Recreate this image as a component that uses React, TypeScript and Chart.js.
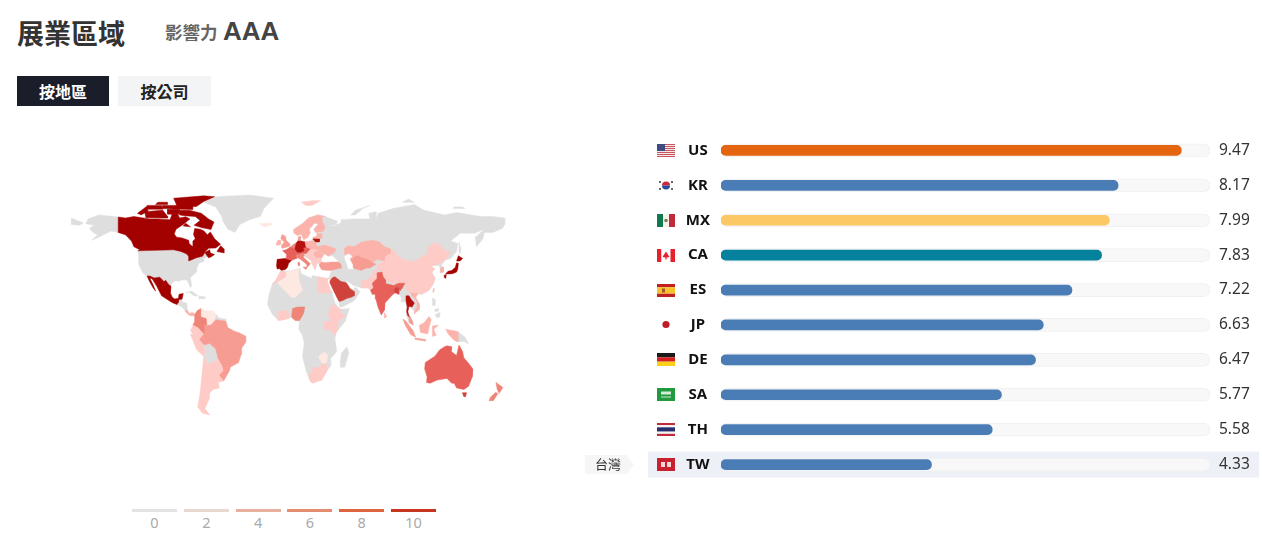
import React, { useEffect, useRef } from "react";
import { Chart, registerables } from "chart.js";

Chart.register(...registerables);

/* ---------- ranking data ---------- */
const codes = ["US", "KR", "MX", "CA", "ES", "JP", "DE", "SA", "TH", "TW"];
const scores = [9.47, 8.17, 7.99, 7.83, 7.22, 6.63, 6.47, 5.77, 5.58, 4.33];
const scoreLabels = ["9.47", "8.17", "7.99", "7.83", "7.22", "6.63", "6.47", "5.77", "5.58", "4.33"];
const barColors = ["#e5640f", "#4a7db5", "#fbc865", "#04819c", "#4a7db5", "#4a7db5", "#4a7db5", "#4a7db5", "#4a7db5", "#4a7db5"];
const trackMax = 10.06;
const highlightCode = "TW";
const highlightName = "台灣";

/* ---------- legend data ---------- */
const legendTicks = ["0", "2", "4", "6", "8", "10"];
const legendColors = ["#e3e3e3", "#e8d8d0", "#e8b09c", "#e38c70", "#de6540", "#c8341f"];

/* ---------- map shades ---------- */
const GRAY = "#dedede";
const WATER = "#ffffff";
const S1 = "#fde8e2";
const S2 = "#ffcbc6";
const S3 = "#fcb3ab";
const S4 = "#f79c92";
const S5 = "#ef8478";
const S6 = "#e8605a";
const S7 = "#d0433c";
const S8 = "#b5120f";
const S9 = "#a30000";

/* ---------- map outlines: flat lon,lat lists ---------- */
const eurasia = [-9,37,-9.5,39,-9,43,-2,43.5,-1,46,-4.5,48.5,-1.5,49,1.5,50.5,4,52,7,53.5,8.5,55,8.5,57,10.5,57.5,10,54.5,14,54,19,54.5,21,57,24,57.5,24,59.3,29.5,60,23,60,21.5,62,25,65,22,65.8,17.5,62,18.5,60,16.5,57,14.5,56,13,55.5,11,59,8,58,5,59.5,5,62,12,65.5,17,69,25,71,31,70,41,67,40,65,35,64.5,38,64,44,66,44,68,54,68.5,68,68.5,67,72,73,73,73,68,75,72,87,75,105,77.5,113,74,130,71,140,72.5,160,70,170,70,180,69,180,65,178,62.5,170,60,163,60,162,56,156.5,51,155.5,57,163,62,155,59.5,143,59.5,135,54.5,141,53,140,48,135,43.5,130.5,42.5,127.5,39.5,129.3,37,129,35,126.5,34.5,126.5,37.5,125,39.5,121.5,39,118,39,122,37,119.5,35,122,31,121,28,117,23.5,111,21,108,21.5,106,19,109,15,109,11.5,105,8.7,105,10.5,100.5,13.5,99.5,10,103.5,4,104,1.5,101,3,98,8,98.5,14,97.5,16.5,94.5,16,94,19,91.5,22.5,89,22,86.5,20.5,80.5,15.5,80,11,77.5,8,75,12.5,73,18,72.5,21,70,21,68.5,23.5,66.5,25,61.5,25,57,26,54,26.7,51,28.5,48,30,50,26.5,51.5,25,54,24,56.3,25.5,59.8,22.5,55,17,45,13,43,13,42,17,39,21.5,35,28,34.9,29.5,34.2,31.3,36,36,32,36.2,28,36.5,26.5,38.5,26.5,40,24,40.7,23,38,22.5,36.5,19.5,41,19,42.5,14,45,12.5,44.5,18.5,40.3,16,38,15.5,40,10.5,43,8,44,3.5,43,0.5,40.5,-0.5,38,-2,36.7,-5.5,36];
const chukotkaEnd = [-180,65,-180,69,-175,67.5,-170,66,-173,64.5];
const novayaZemlya = [52,71,56,74,68,77,62,75,56,71];
const severnaya = [95,79,105,79,100,81];
const newSiberia = [137,75,147,75,145,76,138,76];
const africa = [-6,35.8,-1,35.5,10,37.3,11,34,15,32.5,20,31,20,32.8,25,32,32,31,34.2,31.3,32.5,29.9,35,24,37,21,39,15.5,43,11.5,51,12,47.5,4,40,-3,39,-7,40.5,-15,35,-20,35.5,-24,32.5,-27,28,-33,20,-35,18,-33,15,-27,12,-18,13.5,-10,12,-5,9,-1,9.5,4,6,4.5,3,6.5,-4,5,-8,4.5,-13,8.5,-17,14.5,-16,20,-13,27.5,-10,30];
const madagascar = [49,-12,50.5,-16,47,-25,44,-25,43.5,-21,44.5,-16];
const alaska = [-168,65.5,-166,68.5,-157,71,-141,69.7,-141,60,-135,58.5,-130,55,-134,58,-140,59.8,-147,60.8,-152,59,-157,57,-163,55,-158,58.5,-162,60,-165,62.5,-161,64.5];
const usa = [-124.7,48.4,-95,49,-89,48,-84.5,46.5,-82.5,45,-82.5,42,-79,43,-76,44,-71,45,-69,47.3,-67,45,-70,43.5,-70,41.7,-74,40.5,-76,37,-76,35,-81,31.5,-80,26,-81,25.2,-82.7,28,-84,30,-89,30,-90,29.2,-94,29.5,-97,27.5,-97.2,26,-99.5,27.5,-101.5,29.8,-103,29,-106.5,31.8,-111,31.3,-114.8,32.5,-117.1,32.5,-120.6,34.5,-122.5,37.5,-124.3,40.3,-124,46];
const greenland = [-70,79,-60,82.5,-32,83.5,-12,81.5,-20,75,-23,70,-32,68,-40,65,-44,60,-50,62,-54,67,-55,70,-60,76];
const canada = [-141,69.7,-135,69,-128,70,-115,68.5,-108,68.5,-98,68,-96,72,-92,72,-90,69,-85,69.8,-81.5,68.5,-87,65,-93,62,-94.5,59,-92.5,57,-88,56.5,-82.5,55,-82,52.8,-79.5,51.3,-79,54.5,-77,56,-78.5,58.7,-77.5,62.4,-73,62,-70,61,-67,58.5,-64.5,60.3,-61,56,-56,52.5,-60,50.2,-66,50,-70,47,-65,49,-64.5,47,-61,46,-64,44.5,-66,44,-67,45,-69,47.3,-71,45,-76,44,-79,43,-82.5,42,-82.5,45,-84.5,46.5,-89,48,-95,49,-124.7,48.4,-123,49,-128,51,-130,54.5,-135,58.5,-141,60];
const baffin = [-82,74,-72,72,-66,68.5,-61.5,66.5,-64,61.8,-72,63,-78,64.5,-73,67.5,-77,70,-86,70.5,-90,71,-90,74];
const victoria = [-119,73,-104,74,-100,70,-100,69,-118,69.2];
const banks = [-125,72,-118,76,-116,73.5,-122,71];
const ellesmere = [-92,76.3,-95,81.5,-70,83,-61,82.5,-70,79.5,-76,76.3];
const devon = [-96,74.8,-79,74.4,-79,76.4,-92,77.5];
const melville = [-119,74.6,-104,74.6,-105,77,-117,77];
const bathurst = [-104,75,-93,74.8,-93,77,-104,77];
const somerset = [-100,71.5,-90,71.5,-90,74.5,-100,74.5];
const kingChristian = [-110,77.5,-100,77.5,-100,79,-108,79];
const newfoundland = [-59,48,-53,47,-53,49.5,-56,51.5];
const southampton = [-87,64,-81,63.5,-85,65.8];
const mexico = [-117.1,32.5,-114.8,32.5,-111,31.3,-106.5,31.8,-103,29,-101.5,29.8,-99.5,27.5,-97.2,26,-97.8,22,-96,19,-94,18,-91,18.5,-90.5,21,-87,21.5,-88,18,-91,17.5,-91,16,-92.2,14.5,-96,15.7,-105,20,-109,26,-113,31,-114.7,31,-112,27,-110,23,-112,25,-115,29];
const centralAm = [-92.2,14.5,-91,16,-91,17.5,-88,18,-88,16,-84,15.5,-83.5,11,-84,9,-86,11,-88,13];
const panama = [-85.5,10.5,-83.5,11,-82,9,-79,9.5,-77.5,8.5,-78,7.5,-81,7.5,-83,8.2];
const cuba = [-85,22,-80,23,-74.5,20,-78,20,-82,22.3];
const hispaniola = [-74,19.8,-69,19.5,-68.5,18.3,-74,18.2];
const brazil = [-51.5,4,-60,5,-64,2,-70,1,-70,-4,-74,-7.5,-70,-11,-65,-10,-60,-13.5,-58,-20,-55,-24,-54,-27,-57.5,-30,-53.5,-33.7,-48.5,-27,-48,-25,-41,-22,-39,-17,-38.5,-13,-35,-9,-35,-5.5,-41,-3,-44,-2.5,-50,0];
const colombia = [-77.5,8.5,-75,11,-72,12,-72,7,-67.5,6,-67,2,-70,1,-70,-4,-75,0,-79,1.5,-77.5,4];
const venezuela = [-72,12,-68,10.5,-62,10.7,-60,8.5,-61,5,-64,2,-67,2,-67.5,6,-72,7];
const guianas = [-60,8.5,-57,6,-52,5.5,-51.5,4,-60,2,-60,5,-61,5];
const ecuador = [-79,1.5,-75,0,-75.5,-2,-78.5,-4.5,-81,-2];
const peru = [-81,-4,-78.5,-4.5,-75.5,-2,-75,0,-70,-4,-74,-7.5,-70,-11,-69,-15,-70,-18,-76,-14];
const bolivia = [-70,-11,-65,-10,-60,-13.5,-58,-20,-62.5,-22,-67,-23,-69,-19,-70,-18,-69,-15];
const southernCone = [-70,-18,-69,-19,-67,-23,-62.5,-22,-58,-20,-55,-24,-54,-27,-57.5,-30,-53.5,-33.7,-58,-34.5,-57,-38,-62,-39,-65,-41,-65.5,-45,-69,-51,-65,-55,-71,-54,-75,-50,-73,-41,-71.5,-30];
const spain = [-9,43,-2,43.5,3,42.4,0.5,40.5,-0.5,38,-2,36.7,-5.5,36,-7,37.2,-9,37,-9.5,39];
const france = [-1.7,43.4,3,42.4,7.5,43.7,7,46,8,49,2.5,51,1.5,50.5,-1.5,49,-4.5,48.5,-1,46];
const germany = [5.9,50.5,7,53.5,8.7,55,14.2,54,15,51,12.5,50,13.5,48.5,10,47.3,7.5,47.6,6.5,49];
const benelux = [2.5,51,6,49.5,5.9,50.5,7,53.5,4,52];
const italy = [7,44,7,46,12,47,13.5,45.6,12.5,44.5,18.5,40.3,16,38,15.5,40,10.5,43,8,44];
const sicily = [12.5,38,15.5,38.2,15,36.7];
const sardinia = [8.2,41,9.7,41,9.5,39,8.5,39];
const centralEu = [7.5,47.6,10,47.3,13.5,48.5,12.5,50,15,51,19,49.5,17,48,16,47,13.5,46.5,12,47,7,46];
const poland = [14.2,54,19,54.5,23,54,24,51,22.5,49.2,19,49.5,15,51];
const hungary = [16,47,17,48,19,49.5,22.5,49.2,22.5,48,21,46,19,45.5,16,46];
const ukraine = [22.5,49.2,24,51,31,52,40,49.5,38,47,35,46,33.5,44.5,30,46,27,48];
const romania = [21,46,22.5,48,27,48,29.5,45,28,43.8,23,43.8];
const balkans = [23,43.8,28,43.8,28,41.8,26,40.8,24,40.7,23,38,22.5,36.5,19.5,41,19,42.5,14,45,16,46,19,45.5,21,46];
const scandinavia = [5,59.5,8,58,11,59,13,55.5,14.5,56,16.5,57,18.5,60,17.5,62,22,65.8,24,66,23,68,28,70,31,70,25,71,17,69,12,65.5,5,62];
const finland = [24,66,25,65,21.5,62,23,60,29,60.5,31,63,29,66,28.5,69.5,28,70,23,68];
const denmark = [8.5,55,8.5,57,10.5,57.5,10,54.8];
const lithuania = [21,56.3,26,56,26,54,23,54,21,55.3];
const latvia = [21,57,24,57.5,24,59.3,28,59.3,28,56.2,21,56.3];
const britain = [-5,50,1.5,51.3,1.7,52.7,-1.5,55,-2,57.5,-5,58.6,-6,56,-3,54,-5,52];
const ireland = [-10,52,-6,52.2,-6,55,-8.5,55];
const iceland = [-24,65.5,-14,66,-14,64.5,-20,63.4];
const svalbard = [11,79,20,80,27,80,20,77,15,77];
const turkey = [26,40,26.5,38.5,28,36.5,32,36.2,36,36.2,42,37.2,44.5,37.5,44,40,41.5,41.5,36,41.5,31,41,28,41.5];
const saudi = [34.9,29.5,37,31.5,39,32,44,29,48,28.5,50,26.5,51.5,24.5,55,22.7,55,20,52,19,49,18.5,46,17.3,43,16.5,42,17,39,21.5,35,28];
const india = [74,34.5,78,35,79,32,81,30,81,27.8,88,26.5,89,27,92,28,97,28,95,25,93,23,92,25,89.5,25.5,88,24,89,22,86.5,20.5,80.5,15.5,80,11,77.5,8,75,12.5,73,18,72.5,21,70,21,68.5,23.5,71,25,70,28,74,31];
const china = [74,39.5,80,42,80.5,45,85,47,88,49,91,45.5,96,42.8,105,41.6,112,45,116,46.5,116,49.8,120,53,125,53,131,48,135,48,131,43,125,40,121.5,39,118,39,122,37,119.5,35,122,31,121,28,117,23.5,111,21,108,21.5,102,22,98,24,97,28,92,28,89,27.5,81,30,79,32,78,35,75,37];
const kazakhstan = [47,50,50,51.5,55,51,61,54,70,55,76,54,80,51,85.5,49.5,85,47,80.5,45,80,42,74,43,70,41,66,43,61,44,58,45.5,56,45,52,42,50.5,45,47,46];
const centralAsia = [56,45,58,45.5,61,44,66,43,70,41,73,40,68,37.5,65,37.5,61,36,54,37.5,53,40,52,42];
const pakistan = [61,25,66.5,25,68.5,23.5,71,25,70,28,74,31,74,34.5,75,37,71,36,70,33,66,30,61,29.5];
const bangladesh = [88,24,89.5,25.5,92,25,92,21,89,22];
const thailand = [98,17,98,20,100.5,20,102,18,105,15.5,103,13,100.5,13.5,99.5,10,100.5,7,102,6,99.5,7.5,98.5,10,99,13];
const vietnam = [102,22,108,21.5,106,19,109,15,109,11.5,105,8.7,105,10.5,107,12.5,107.5,16,104.5,19,102.5,20];
const malaya = [100.5,6.5,102,6,103.5,4,104,1.5,101,3];
const sumatra = [95.5,5.5,98,4,104,-2,106,-6,102,-4.5,97,2];
const java = [105.5,-6.5,114,-7.5,114,-8.5,106,-7.5];
const borneo = [109,1.5,113,3,117,7,119,5,117.5,1,116,-4,110,-3];
const sulawesi = [120,1,125,1.5,121,-1,123,-5,120,-5.5];
const papua = [131,-1,141,-2.5,141,-9,138,-8,133,-4];
const png = [141,-2.5,147,-6,150,-10.5,146,-8.5,141,-9];
const luzon = [120,18.5,122,18,122,14,120,14];
const visayas = [122,11.5,125,12,125,10.5,122,10];
const mindanao = [122,8,125.5,9.5,126,7,124,6];
const sriLanka = [80,9.5,82,7,80.5,6];
const honshu = [130.9,34,133,35.5,136,36,139,38,140,40.8,141.5,40.5,141,37,140,35,136.5,34,133,33.8];
const kyushu = [129.7,33,131.5,33.5,131,31,130,31.5];
const hokkaido = [140,42,141.5,45.3,145,43.5,143,42];
const sakhalin = [142,54,143.5,50,143,46.5,142,48];
const southKorea = [126.5,37.7,129,38,129.3,36,129,35,126.5,34.5];
const taiwan = [120.2,23,121.5,25,121,22];
const algeria = [-2,35,8.5,37,9,30,12,23.5,6,19,3,19,-8,27.5,-8.5,29,-2,32];
const morocco = [-6,35.8,-2,35,-2,32,-8.5,29,-13,27.5,-10,30];
const egypt = [25,32,32,31,34.2,31.3,32.5,29.9,35,24,37,22,25,22];
const nigeria = [3,6.5,3.7,12,8,13,14,13,13,9,9.5,4.5,6,4.5];
const ghanaCoast = [-8,4.5,-3,5,1,6,0,11,-8,10];
const ethiopia = [33,8,36.5,14.5,43,12,43,9.5,47.5,8,42,4,36,4.5];
const kenya = [34,4,36,4.5,41.5,4,41,-2,39,-4.5,34,-1];
const uganda = [30,3.5,34,4,34,-1,30,-1];
const southAfrica = [17,-29,20,-29,20,-25,25,-25.5,29,-22.5,32,-23,32.5,-27,28,-33,20,-35,18,-33];
const zimbabwe = [25.5,-18,30,-15.5,33,-17,32,-22,29,-22.5,26,-20];
const australia = [114,-22,122,-18,126,-14,130,-12,132,-11.5,136,-12,135.5,-15,140,-17.5,142,-11,145,-15,146,-19,150,-22.5,153.5,-26,153,-31,150,-37,146,-39,140,-38,138,-35,136,-35,132,-32,124,-33,118,-35,115,-34.5,115.5,-31,113.5,-26];
const tasmania = [144.8,-41,148.3,-41,147.5,-43.5,146,-43.5];
const nzNorth = [172.7,-34.5,178.5,-37.7,175.3,-41.5,173.8,-39];
const nzSouth = [172.5,-40.7,174.3,-41.7,170.5,-46,167,-46,168,-44];
const caspian = [47,45,50.5,46.5,53,45,51,43,53.5,40,54,37,50,37.3,49,40,47.5,43];
const blackSea = [28,41.6,31,41.3,36,41.6,41.5,41.7,37,45,33.5,44.6,30.5,46,28.5,44];

/* drawn in this order, later on top */
const mapLayers: [number[], string][] = [
  [eurasia, GRAY], [chukotkaEnd, GRAY], [novayaZemlya, GRAY], [severnaya, GRAY], [newSiberia, GRAY], [africa, GRAY], [madagascar, GRAY], [alaska, GRAY], [usa, GRAY], [greenland, GRAY],
  [centralAm, GRAY], [cuba, GRAY], [hispaniola, GRAY], [guianas, GRAY], [bolivia, GRAY], [png, GRAY], [luzon, GRAY], [visayas, GRAY], [mindanao, GRAY], [sakhalin, GRAY],
  [canada, S9], [baffin, S9], [victoria, S9], [banks, S9], [ellesmere, S9], [devon, S9], [melville, S9], [bathurst, S9], [somerset, S9], [kingChristian, S9], [newfoundland, S9], [southampton, S9],
  [mexico, S9], [panama, S3],
  [brazil, S4], [colombia, S5], [venezuela, S1], [ecuador, S2], [peru, S2], [southernCone, S2],
  [spain, S9], [france, S6], [benelux, S5], [italy, S5], [sicily, S5], [sardinia, S5], [centralEu, S6], [germany, S8], [poland, S3], [hungary, S2], [ukraine, S3], [romania, S3], [balkans, S2],
  [scandinavia, S3], [finland, S3], [denmark, S4], [lithuania, S8], [latvia, S3], [britain, S4], [ireland, S3], [iceland, S1], [svalbard, S2],
  [turkey, S4], [saudi, S7], [china, S2], [kazakhstan, S3], [centralAsia, S4], [pakistan, S2], [india, S6], [bangladesh, S7],
  [thailand, S8], [vietnam, S3], [malaya, S4], [sumatra, S4], [java, S4], [borneo, S3], [sulawesi, S3], [papua, S3], [sriLanka, S3],
  [honshu, S9], [kyushu, S9], [hokkaido, S9], [southKorea, S3], [taiwan, S3],
  [algeria, S1], [morocco, S2], [egypt, S2], [nigeria, S5], [ghanaCoast, S2], [ethiopia, S2], [kenya, S2], [uganda, S2], [southAfrica, S2], [zimbabwe, S1],
  [australia, S6], [tasmania, S7], [nzNorth, S5], [nzSouth, S5],
  [caspian, WATER], [blackSea, WATER],
];

function toPoints(flat: number[]) {
  const pts: { x: number; y: number }[] = [];
  for (let i = 0; i < flat.length; i += 2) pts.push({ x: flat[i], y: flat[i + 1] });
  pts.push({ x: flat[0], y: flat[1] });
  return pts;
}

/* ---------- flags, painted at a row's pixel centre ---------- */
type Ctx = CanvasRenderingContext2D;
function stripes(c: Ctx, x: number, y: number, w: number, h: number, cols: string[], weights: number[], vertical = false) {
  const total = weights.reduce((a, b) => a + b, 0);
  let off = 0;
  cols.forEach((col, i) => {
    const s = weights[i] / total;
    c.fillStyle = col;
    if (vertical) c.fillRect(x + off * w, y, s * w, h);
    else c.fillRect(x, y + off * h, w, s * h);
    off += s;
  });
}
function drawFlag(c: Ctx, code: string, cy: number) {
  const w = 18, h = 13, x = 657, y = Math.round(cy - h / 2);
  const cx = x + w / 2, my = y + h / 2;
  c.save();
  if (code === "US") {
    const cols: string[] = [], wt: number[] = [];
    for (let i = 0; i < 7; i++) { cols.push("#c8545c", "#f4e8e8"); wt.push(1, 1); }
    stripes(c, x, y, w, h, cols.slice(0, 13), wt.slice(0, 13));
    c.fillStyle = "#3f4c80";
    c.fillRect(x, y, 8, 7);
  } else if (code === "KR") {
    c.fillStyle = "#cc2a3a";
    c.beginPath(); c.arc(cx, my, 4, Math.PI, 0); c.fill();
    c.fillStyle = "#2a4a9a";
    c.beginPath(); c.arc(cx, my, 4, 0, Math.PI); c.fill();
    c.fillStyle = "#666";
    [[-6, -3.5], [6, -3.5], [-6, 3.5], [6, 3.5]].forEach(([a, b]) => c.fillRect(cx + a - 1, my + b - 1, 2, 2));
  } else if (code === "MX") {
    stripes(c, x, y, w, h, ["#0f7a50", "#f6f2ee", "#c02a3a"], [1, 1, 1], true);
    c.fillStyle = "#8a7a50";
    c.beginPath(); c.arc(cx, my, 1.8, 0, Math.PI * 2); c.fill();
  } else if (code === "CA") {
    stripes(c, x, y, w, h, ["#e8202c", "#ffffff", "#e8202c"], [1, 2, 1], true);
    c.fillStyle = "#e8202c";
    c.beginPath(); c.moveTo(cx, my - 4); c.lineTo(cx + 3.5, my + 1.5); c.lineTo(cx + 0.6, my + 2); c.lineTo(cx + 0.6, my + 4);
    c.lineTo(cx - 0.6, my + 4); c.lineTo(cx - 0.6, my + 2); c.lineTo(cx - 3.5, my + 1.5); c.closePath(); c.fill();
  } else if (code === "ES") {
    stripes(c, x, y, w, h, ["#c0201f", "#f6c32c", "#c0201f"], [1, 2, 1]);
    c.fillStyle = "#a8582c";
    c.fillRect(x + 5, my - 2, 3, 4);
  } else if (code === "JP") {
    c.fillStyle = "#c01c28";
    c.beginPath(); c.arc(cx, my, 3.6, 0, Math.PI * 2); c.fill();
  } else if (code === "DE") {
    stripes(c, x, y, w, h, ["#1a1a1a", "#d61f1f", "#fbcf1a"], [1, 1, 1]);
  } else if (code === "SA") {
    c.fillStyle = "#1f9a3c";
    c.fillRect(x, y, w, h);
    c.fillStyle = "#d5ecd8";
    c.fillRect(x + 4, my - 3, 10, 3);
    c.fillRect(x + 4, my + 2, 10, 1);
  } else if (code === "TH") {
    stripes(c, x, y, w, h, ["#c02a3a", "#f4f4f4", "#27306e", "#f4f4f4", "#c02a3a"], [1, 1, 2, 1, 1]);
  } else if (code === "TW") {
    c.fillStyle = "#c8202f";
    c.fillRect(x, y, w, h);
    c.fillStyle = "#f4d6d8";
    c.fillRect(x + 4, my - 2.5, 4, 5);
    c.fillRect(x + 10, my - 2.5, 4, 5);
  }
  c.restore();
}

const rowDecor = {
  id: "rowDecor",
  beforeDatasetsDraw(chart: any) {
    const c: Ctx = chart.ctx;
    const y = chart.scales.y;
    const idx = codes.indexOf(highlightCode);
    const hy = y.getPixelForValue(idx);
    const ox = chart.canvas.getBoundingClientRect().left;
    c.save();
    c.globalCompositeOperation = "destination-over";
    c.fillStyle = "#edf0f6";
    c.fillRect(648 - ox, hy - 13, 611, 26);
    c.restore();
    c.save();
    c.fillStyle = "#f6f6f7";
    c.beginPath();
    c.moveTo(585 - ox, hy - 9.5);
    c.lineTo(627 - ox, hy - 9.5);
    c.lineTo(634 - ox, hy);
    c.lineTo(627 - ox, hy + 9.5);
    c.lineTo(585 - ox, hy + 9.5);
    c.closePath();
    c.fill();
    c.fillStyle = "#333";
    c.font = '13px "Noto Sans CJK TC"';
    c.textAlign = "center";
    c.textBaseline = "middle";
    c.fillText(highlightName, 608 - ox, hy);
    c.translate(-ox, 0);
    codes.forEach((code, i) => drawFlag(c, code, y.getPixelForValue(i)));
    c.restore();
  },
};

const noVerticalPadding = (s: any, width: number) => {
  s.width = width;
  s.paddingTop = 0;
  s.paddingBottom = 0;
};

export default function App() {
  const mapRef = useRef<HTMLCanvasElement>(null);
  const barRef = useRef<HTMLCanvasElement>(null);

  useEffect(() => {
    const n = mapLayers.length;
    const mapChart = new Chart(mapRef.current!, {
      type: "scatter",
      data: {
        datasets: mapLayers.map(([ring, color], i) => ({
          data: toPoints(ring),
          showLine: true,
          fill: "shape",
          pointRadius: 0,
          borderWidth: 0.5,
          borderColor: color,
          backgroundColor: color,
          order: n - i,
          clip: false,
        })),
      } as any,
      options: {
        animation: false,
        responsive: false,
        layout: { padding: 0 },
        plugins: { legend: { display: false }, tooltip: { enabled: false } },
        scales: {
          x: { type: "linear", min: -239.2, max: 225.9, display: false },
          y: { type: "linear", min: -108.6, max: 124.5, display: false },
        },
      },
    });

    const barChart = new Chart(barRef.current!, {
      type: "bar",
      data: {
        labels: codes,
        datasets: [
          {
            data: scores,
            backgroundColor: barColors,
            barThickness: 10,
            borderRadius: 5,
            borderSkipped: false,
            grouped: false,
          },
          {
            data: codes.map(() => trackMax),
            backgroundColor: "#f8f8f9",
            borderColor: "#f0f0f1",
            borderWidth: 1,
            barThickness: 13,
            borderRadius: 7,
            borderSkipped: false,
            grouped: false,
          },
        ],
      } as any,
      options: {
        indexAxis: "y",
        animation: false,
        responsive: false,
        layout: { padding: { left: 93, top: 3, bottom: 8, right: 0 } },
        plugins: { legend: { display: false }, tooltip: { enabled: false } },
        scales: {
          x: { min: 0, max: trackMax, display: false },
          y: {
            type: "category",
            position: "left",
            grid: { display: false, drawTicks: false },
            border: { display: false },
            afterFit: (s: any) => noVerticalPadding(s, 48),
            ticks: {
              crossAlign: "center",
              padding: 11,
              color: "#111",
              font: { family: '"Noto Sans"', size: 15, weight: "bold" },
            },
          },
          y2: {
            type: "category",
            position: "right",
            labels: scoreLabels,
            offset: true,
            grid: { display: false, drawTicks: false },
            border: { display: false },
            afterFit: (s: any) => noVerticalPadding(s, 52),
            ticks: {
              padding: 9,
              color: "#333",
              font: { family: '"Noto Sans"', size: 15.5 },
            },
          },
        },
      } as any,
      plugins: [rowDecor],
    });

    return () => {
      mapChart.destroy();
      barChart.destroy();
    };
  }, []);

  const cjk = '"Noto Sans CJK TC", sans-serif';
  const abs = (o: React.CSSProperties): React.CSSProperties => ({ position: "absolute", whiteSpace: "nowrap", ...o });

  return (
    <div style={abs({ left: 0, top: 0, width: 1262, height: 544, background: "#fff", overflow: "hidden", filter: "blur(0.4px)" })}>
      <div style={abs({ left: 17, top: 13, fontFamily: cjk, fontSize: 27, fontWeight: 700, lineHeight: "40px", color: "#333" })}>展業區域</div>
      <div style={abs({ left: 165, top: 17, fontFamily: cjk, fontSize: 17.5, fontWeight: 700, lineHeight: "30px", color: "#666" })}>影響力</div>
      <div style={abs({ left: 223, top: 13, fontFamily: '"Liberation Sans"', fontSize: 26, fontWeight: 700, lineHeight: "36px", color: "#444" })}>AAA</div>
      <div style={abs({ left: 17, top: 76, width: 92, height: 30, background: "#1a1e2b", color: "#fff", fontFamily: cjk, fontSize: 16, fontWeight: 700, lineHeight: "30px", textAlign: "center" })}>按地區</div>
      <div style={abs({ left: 118, top: 76, width: 93, height: 30, background: "#f3f4f6", color: "#222", fontFamily: cjk, fontSize: 16, fontWeight: 700, lineHeight: "30px", textAlign: "center" })}>按公司</div>

      <canvas ref={mapRef} width={560} height={370} style={abs({ left: 0, top: 130, display: "block" })} />
      <canvas ref={barRef} width={682} height={360} style={abs({ left: 580, top: 130, display: "block" })} />

      {legendTicks.map((t, i) => (
        <div key={t} style={abs({ left: 132 + i * 51.8, top: 509, width: 45, textAlign: "center" })}>
          <div style={{ height: 3, background: legendColors[i] }} />
          <div style={{ fontFamily: '"Noto Sans"', fontSize: 14.5, color: "#aaa", lineHeight: "20px" }}>{t}</div>
        </div>
      ))}
    </div>
  );
}
